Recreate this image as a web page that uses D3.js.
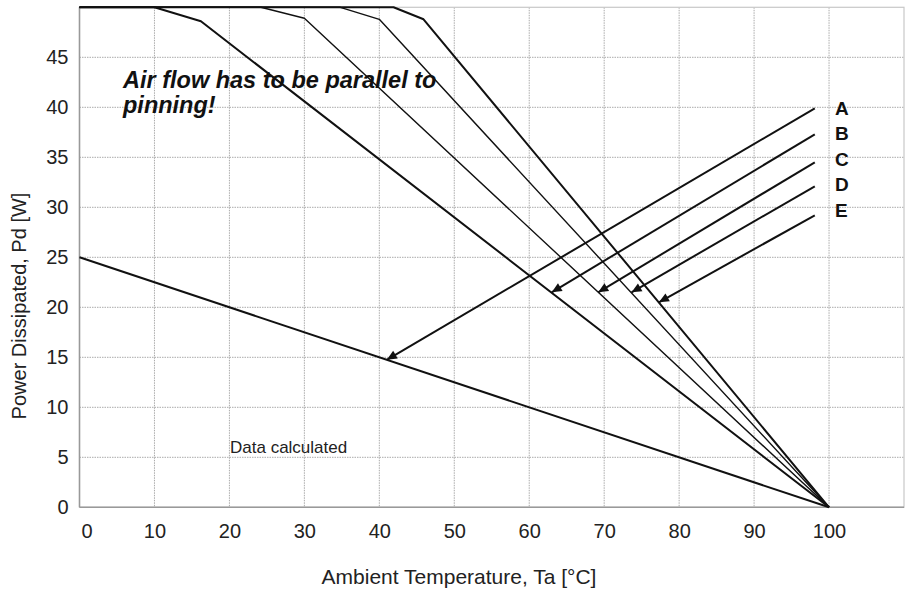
<!DOCTYPE html>
<html>
<head>
<meta charset="utf-8">
<script src="https://cdn.jsdelivr.net/npm/d3@7"></script>
<style>
  body { margin: 0; background: #fff; }
  svg { display: block; font-family: "Liberation Sans", Arial, sans-serif; }
</style>
</head>
<body>
<div id="chart"></div>
<script>
// axis ticks
var xTicks = [0, 10, 20, 30, 40, 50, 60, 70, 80, 90, 100];
var yTicks = [0, 5, 10, 15, 20, 25, 30, 35, 40, 45];

// derating lines [Ta, Pd]
var calculated = [[0, 25], [100, 0]];
var curve1 = [[0, 50], [10, 50], [16.2, 48.6], [100, 0]];
var curve2 = [[0, 50], [24.2, 50], [30, 48.9], [100, 0]];
var curve3 = [[0, 50], [34.8, 50], [40, 48.8], [100, 0]];
var curve4 = [[0, 50], [41.9, 50], [45.9, 48.8], [100, 0]];

// arrows A..E : start (at the letter) and end (tip on a line)
var arrowLabels = ["A", "B", "C", "D", "E"];
var arrowStartX = 98.1;
var arrowStartY = [39.9, 37.3, 34.5, 32.1, 29.2];
var arrowEnd = [[41, 14.75], [63, 21.5], [69.2, 21.5], [73.65, 21.5], [77.3, 20.5]];

var width = 907, height = 592;
var plotLeft = 79.5, plotRight = 904, plotTop = 7.3, plotBottom = 507.3;

var svg = d3.select("#chart").append("svg")
  .attr("width", width)
  .attr("height", height);

var x = d3.scaleLinear().domain([0, 110]).range([plotLeft, plotRight]);
var y = d3.scaleLinear().domain([0, 50]).range([plotBottom, plotTop]);

svg.append("defs")
  .append("marker")
  .attr("id", "arrowhead")
  .attr("viewBox", "0 -5 10 10")
  .attr("refX", 10)
  .attr("refY", 0)
  .attr("orient", "auto")
  .attr("markerUnits", "userSpaceOnUse")
  .attr("markerWidth", 12)
  .attr("markerHeight", 10)
  .append("path")
  .attr("d", "M0,-4.5L10,0L0,4.5Z")
  .attr("fill", "#111");

// grid
svg.append("g")
  .selectAll("line")
  .data(xTicks.slice(1))
  .enter()
  .append("line")
  .attr("x1", function (d) { return x(d); })
  .attr("x2", function (d) { return x(d); })
  .attr("y1", plotTop)
  .attr("y2", plotBottom)
  .attr("stroke", "#aaa")
  .attr("stroke-width", 1)
  .attr("stroke-dasharray", "1.5,1");

svg.append("g")
  .selectAll("line")
  .data(yTicks.slice(1))
  .enter()
  .append("line")
  .attr("x1", plotLeft)
  .attr("x2", plotRight)
  .attr("y1", function (d) { return y(d); })
  .attr("y2", function (d) { return y(d); })
  .attr("stroke", "#aaa")
  .attr("stroke-width", 1)
  .attr("stroke-dasharray", "1.5,1");

// frame
svg.append("rect")
  .attr("x", plotLeft)
  .attr("y", plotTop)
  .attr("width", plotRight - plotLeft)
  .attr("height", plotBottom - plotTop)
  .attr("fill", "none")
  .attr("stroke", "#c8c8c8")
  .attr("stroke-width", 1.2);

svg.append("line")
  .attr("x1", plotLeft).attr("x2", plotLeft)
  .attr("y1", plotTop).attr("y2", plotBottom)
  .attr("stroke", "#999").attr("stroke-width", 1.5);
svg.append("line")
  .attr("x1", plotLeft).attr("x2", plotRight)
  .attr("y1", plotBottom).attr("y2", plotBottom)
  .attr("stroke", "#999").attr("stroke-width", 1.5);

// axes (labels only)
var xAxis = svg.append("g")
  .attr("transform", "translate(0," + plotBottom + ")")
  .call(d3.axisBottom(x).tickValues(xTicks).tickSize(0).tickPadding(16.5));
xAxis.select(".domain").remove();
xAxis.selectAll("text")
  .attr("font-size", 20)
  .attr("font-family", "Liberation Sans, Arial, sans-serif")
  .attr("fill", "#222")
  .attr("dx", function (d) { return d === 0 ? 7 : 0; });

var yAxis = svg.append("g")
  .attr("transform", "translate(" + plotLeft + ",0)")
  .call(d3.axisLeft(y).tickValues(yTicks).tickSize(0).tickPadding(11));
yAxis.select(".domain").remove();
yAxis.selectAll("text")
  .attr("font-size", 20)
  .attr("font-family", "Liberation Sans, Arial, sans-serif")
  .attr("fill", "#222");

// axis titles
svg.append("text")
  .attr("x", 459)
  .attr("y", 584)
  .attr("text-anchor", "middle")
  .attr("font-size", 21)
  .attr("fill", "#222")
  .text("Ambient Temperature, Ta [°C]");

svg.append("text")
  .attr("transform", "translate(26,306) rotate(-90)")
  .attr("text-anchor", "middle")
  .attr("font-size", 20)
  .attr("fill", "#222")
  .text("Power Dissipated, Pd [W]");

// lines
var line = d3.line()
  .x(function (d) { return x(d[0]); })
  .y(function (d) { return y(d[1]); });

var series = [
  { pts: calculated, w: 2 },
  { pts: curve2, w: 1.4 },
  { pts: curve3, w: 1.4 },
  { pts: curve1, w: 2 },
  { pts: curve4, w: 2 }
];

svg.append("g")
  .selectAll("path")
  .data(series)
  .enter()
  .append("path")
  .attr("d", function (d) { return line(d.pts); })
  .attr("fill", "none")
  .attr("stroke", "#111")
  .attr("stroke-width", function (d) { return d.w; })
  .attr("stroke-linejoin", "round");

// arrows
svg.append("g")
  .selectAll("line")
  .data(arrowLabels)
  .enter()
  .append("line")
  .attr("x1", x(arrowStartX))
  .attr("y1", function (d, i) { return y(arrowStartY[i]); })
  .attr("x2", function (d, i) { return x(arrowEnd[i][0]); })
  .attr("y2", function (d, i) { return y(arrowEnd[i][1]); })
  .attr("stroke", "#111")
  .attr("stroke-width", 2)
  .attr("marker-end", "url(#arrowhead)");

// letters are stacked evenly from the top arrow
svg.append("g")
  .selectAll("text")
  .data(arrowLabels)
  .enter()
  .append("text")
  .attr("x", 835)
  .attr("y", function (d, i) { return y(arrowStartY[0]) + 6.5 + i * 25.5; })
  .attr("font-size", 19)
  .attr("font-weight", "bold")
  .attr("fill", "#111")
  .text(function (d) { return d; });

// notes
var note = svg.append("text")
  .attr("font-size", 23.5)
  .attr("font-weight", "bold")
  .attr("font-style", "italic")
  .attr("fill", "#111");
note.append("tspan").attr("x", 123).attr("y", 88).text("Air flow has to be parallel to");
note.append("tspan").attr("x", 123).attr("y", 113).text("pinning!");

svg.append("text")
  .attr("x", 230)
  .attr("y", 453)
  .attr("font-size", 17)
  .attr("fill", "#222")
  .text("Data calculated");
</script>
</body>
</html>
